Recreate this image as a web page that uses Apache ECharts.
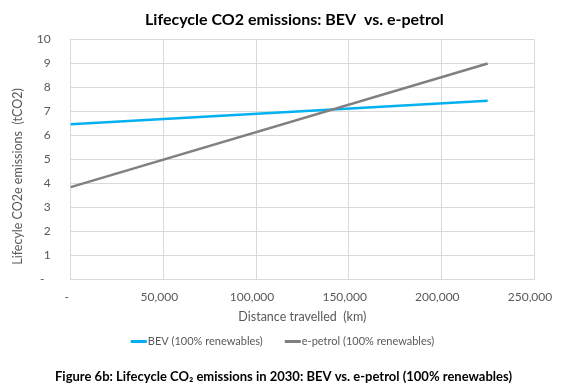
<!DOCTYPE html>
<html>
<head>
<meta charset="utf-8">
<script src="https://cdn.jsdelivr.net/npm/echarts@6/dist/echarts.min.js"></script>
<style>html,body{margin:0;padding:0;background:#fff;}#c{width:565px;height:390px;}</style>
</head>
<body>
<div id="c"></div>
<script>
const distances = [0, 225000];
const bevValues = [6.47, 7.45];
const epetrolValues = [3.85, 9.0];
const seriesNames = ['BEV (100% renewables)', 'e-petrol (100% renewables)'];
const xTicks = [0, 50000, 100000, 150000, 200000, 250000];
const yTicks = [0,1,2,3,4,5,6,7,8,9,10];

const FONT = 'Lato';
const chart = echarts.init(document.getElementById('c'));
const fmtX = v => v === 0 ? '-' : v.toLocaleString('en-US');
chart.setOption({
  animation: false,
  textStyle: { fontFamily: FONT },
  title: [
    { text: 'Lifecycle CO2 emissions: BEV  vs. e-petrol', left: 145, top: 12, padding: 0,
      textStyle: { fontFamily: FONT, fontSize: 16, fontWeight: 'bold', color: '#000' } },
    { text: 'Figure 6b: Lifecycle CO\u2082 emissions in 2030: BEV vs. e-petrol (100% renewables)', left: 55, top: 370, padding: 0,
      textStyle: { fontFamily: FONT, fontSize: 13, fontWeight: 'bold', color: '#000' } }
  ],
  grid: { left: 70.7, right: 31, top: 39.5, bottom: 110.5, containLabel: false },
  legend: {
    data: seriesNames, top: 331, left: 'center', itemWidth: 16, itemHeight: 3, itemGap: 22,
    icon: 'rect',
    textStyle: { fontFamily: FONT, fontSize: 11, color: '#595959', padding: [0,0,0,-4] }
  },
  xAxis: {
    type: 'value', min: xTicks[0], max: xTicks[xTicks.length-1], interval: 50000,
    name: 'Distance travelled  (km)', nameLocation: 'middle', nameGap: 31,
    nameTextStyle: { fontFamily: FONT, fontSize: 12.5, color: '#595959' },
    axisLine: { show: true, lineStyle: { color: '#d9d9d9' } },
    axisTick: { show: false },
    axisLabel: { formatter: fmtX, fontFamily: FONT, fontSize: 12, color: '#595959', margin: 12, padding: [0,8,0,0] },
    splitLine: { show: true, lineStyle: { color: '#d9d9d9', width: 1 } }
  },
  yAxis: {
    type: 'value', min: yTicks[0], max: yTicks[yTicks.length-1], interval: 1,
    name: 'Lifecyle CO2e emissions  (tCO2)', nameLocation: 'middle', nameGap: 46,
    nameTextStyle: { fontFamily: FONT, fontSize: 12.5, color: '#595959', padding: [0,34,0,0] },
    axisLine: { show: true, lineStyle: { color: '#d9d9d9' } },
    axisTick: { show: false },
    axisLabel: { formatter: v => v === 0 ? '-  ' : String(v), fontFamily: FONT, fontSize: 12, color: '#595959', margin: 20 },
    splitLine: { show: true, lineStyle: { color: '#d9d9d9', width: 1 } }
  },
  series: [
    { name: seriesNames[0], type: 'line', data: distances.map((d,i)=>[d,bevValues[i]]), showSymbol: false,
      lineStyle: { color: '#00b0f0', width: 2.5 }, itemStyle: { color: '#00b0f0' } },
    { name: seriesNames[1], type: 'line', data: distances.map((d,i)=>[d,epetrolValues[i]]), showSymbol: false,
      lineStyle: { color: '#808080', width: 2.5 }, itemStyle: { color: '#808080' } }
  ]
});
</script>
</body>
</html>
